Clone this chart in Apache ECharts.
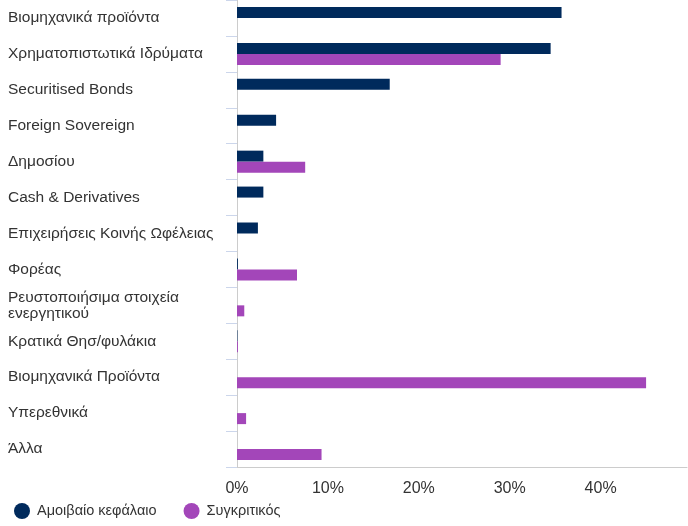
<!DOCTYPE html>
<html>
<head>
<meta charset="utf-8">
<script src="https://cdn.jsdelivr.net/npm/echarts@6/dist/echarts.min.js"></script>
<style>html,body{margin:0;padding:0;background:#fff;}#c{width:688px;height:526px;}</style>
</head>
<body>
<div id="c"></div>
<script>
var categories = [
  "Βιομηχανικά προϊόντα",
  "Χρηματοπιστωτικά Ιδρύματα",
  "Securitised Bonds",
  "Foreign Sovereign",
  "Δημοσίου",
  "Cash & Derivatives",
  "Επιχειρήσεις Κοινής Ωφέλειας",
  "Φορέας",
  "Ρευστοποιήσιμα στοιχεία\nενεργητικού",
  "Κρατικά Θησ/φυλάκια",
  "Βιομηχανικά Προϊόντα",
  "Υπερεθνικά",
  "Άλλα"
];
var seriesNames = ["Αμοιβαίο κεφάλαιο", "Συγκριτικός"];
var fundValues = [35.7, 34.5, 16.8, 4.3, 2.9, 2.9, 2.3, 0.1, null, 0.05, null, null, null];
var benchValues = [null, 29.0, null, null, 7.5, null, null, 6.6, 0.8, 0.1, 45.0, 1.0, 9.3];
var xTicks = [0, 10, 20, 30, 40];

var chart = echarts.init(document.getElementById('c'));
var font = 'Arial, "Liberation Sans", Helvetica, sans-serif';
chart.setOption({
  animation: false,
  grid: {left: 237, right: 1, top: 0, bottom: 59, containLabel: false},
  legend: {
    left: 9, bottom: 2, icon: 'circle', itemWidth: 16, itemHeight: 16, itemGap: 27,
    textStyle: {color: '#333', fontSize: 14.5, fontFamily: font, padding: [0, 0, 0, 2]},
    data: seriesNames
  },
  xAxis: {
    type: 'value', min: 0, max: 49.5, interval: 10,
    axisLine: {show: true, lineStyle: {color: '#ccc', width: 1}},
    axisTick: {show: false},
    splitLine: {show: false},
    axisLabel: {
      color: '#333', fontSize: 16, fontFamily: font, margin: 14,
      showMaxLabel: false,
      formatter: function (v) { return xTicks.indexOf(v) >= 0 ? v + '%' : ''; }
    }
  },
  yAxis: {
    type: 'category', data: categories, inverse: true,
    axisLine: {show: true, lineStyle: {color: '#ccc', width: 1}},
    axisTick: {show: true, length: 11, lineStyle: {color: '#ccd6eb'}},
    axisLabel: {
      color: '#333', fontSize: 15.5, fontFamily: font, align: 'left', margin: 229, lineHeight: 16,
      padding: [3, 0, 0, 0]
    }
  },
  series: [
    {name: seriesNames[0], type: 'bar', data: fundValues, barWidth: 11, barGap: '0%',
     itemStyle: {color: '#002a5c'}},
    {name: seriesNames[1], type: 'bar', data: benchValues, barWidth: 11, barGap: '0%',
     itemStyle: {color: '#a346b9'}}
  ]
});
</script>
</body>
</html>
